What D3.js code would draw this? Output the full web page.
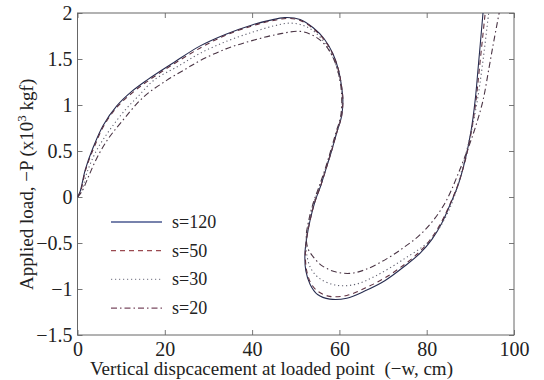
<!DOCTYPE html>
<html>
<head>
<meta charset="utf-8">
<script src="https://cdn.jsdelivr.net/npm/d3@7"></script>
<style>
  body { margin: 0; background: #fff; }
  text { font-family: "Liberation Serif", "DejaVu Serif", serif; fill: #222; }
</style>
</head>
<body>
<svg id="chart" width="544" height="380"></svg>
<script>
// values, [displacement -w (cm), load -P (x10^3 kgf)]
var s120 = [
  [0, 0], [0.6, 0.06], [1.8, 0.3], [3.6, 0.54], [5.9, 0.78], [9, 0.99], [12.5, 1.15],
  [15.9, 1.27], [22, 1.46], [28, 1.64], [34, 1.77], [40, 1.87], [44, 1.92],
  [47.5, 1.95], [51, 1.93], [54, 1.84], [56.5, 1.72], [58.5, 1.56],
  [59.8, 1.38], [60.5, 1.2], [60.8, 1.05], [60.5, 0.88], [59.4, 0.7], [58.2, 0.5],
  [57.1, 0.33], [55.7, 0.12], [54.4, -0.05], [53.3, -0.25], [52.5, -0.45],
  [52.1, -0.62], [52.3, -0.8], [53.3, -0.95], [55, -1.06], [57.8, -1.11],
  [61.7, -1.1], [65.9, -1.02], [70.4, -0.91], [75, -0.75], [78.5, -0.61],
  [81.2, -0.46], [83.5, -0.28], [85.3, -0.09], [87.2, 0.13], [88.8, 0.4],
  [90.2, 0.73], [91.1, 1.05], [91.8, 1.41], [92.9, 2.0]
];
var s50 = [
  [0, 0], [0.7, 0.06], [1.9, 0.3], [3.8, 0.54], [6.1, 0.78], [9.3, 0.99], [13, 1.15],
  [16.4, 1.27], [22.5, 1.46], [28.5, 1.63], [34, 1.76], [40, 1.86], [44, 1.91],
  [48, 1.94], [51, 1.92], [54, 1.83], [56.5, 1.71], [58.5, 1.55],
  [59.8, 1.38], [60.5, 1.2], [60.8, 1.05], [60.5, 0.88], [59.4, 0.7], [58.2, 0.5],
  [57.1, 0.33], [55.7, 0.12], [54.4, -0.05], [53.3, -0.25], [52.5, -0.45],
  [52.2, -0.62], [52.5, -0.8], [53.5, -0.94], [55.2, -1.03], [57.8, -1.08],
  [61.7, -1.07], [65.9, -0.99], [70.4, -0.88], [75, -0.73], [78.5, -0.59],
  [81.2, -0.44], [83.5, -0.26], [85.3, -0.08], [87.2, 0.14], [88.9, 0.41],
  [90.3, 0.73], [91.3, 1.05], [92.1, 1.41], [93.4, 2.0]
];
var s30 = [
  [0, 0], [0.9, 0.06], [2.2, 0.27], [4.3, 0.5], [7.4, 0.73], [11, 0.95], [14, 1.1],
  [17.5, 1.27], [23, 1.42], [28, 1.56], [34, 1.69], [40, 1.79], [45, 1.86],
  [48.7, 1.89], [52, 1.86], [54.7, 1.78], [57, 1.65], [58.7, 1.5], [59.9, 1.32],
  [60.6, 1.12], [60.4, 0.88], [59.3, 0.7], [58.1, 0.5], [57, 0.33], [55.5, 0.12],
  [54.2, -0.05], [53.1, -0.25], [52.4, -0.45], [52.5, -0.62], [53.5, -0.78],
  [55.6, -0.89], [59.4, -0.96], [63.6, -0.95], [68.2, -0.86], [74.6, -0.68],
  [80.8, -0.47], [84.2, -0.23], [86.5, 0.03], [88.6, 0.4], [90.3, 0.73],
  [91.6, 1.05], [92.7, 1.41], [94.2, 2.0]
];
var s20 = [
  [0, 0], [1, 0.06], [2.5, 0.22], [4.5, 0.43], [7, 0.63], [9.8, 0.8], [15.2, 1.09],
  [20.5, 1.27], [25.1, 1.4], [28, 1.48], [34, 1.61], [40, 1.7], [46, 1.77],
  [51, 1.8], [54.2, 1.75], [56.6, 1.66], [58.5, 1.52], [59.8, 1.34], [60.5, 1.12],
  [60.3, 0.88], [59.2, 0.7], [58, 0.5], [56.9, 0.33], [55.4, 0.12], [54.1, -0.05],
  [53, -0.25], [52.4, -0.43], [52.8, -0.56], [54, -0.65], [55.8, -0.74],
  [58.8, -0.81], [62.4, -0.83], [65.9, -0.79], [70.9, -0.67], [75, -0.54],
  [78.5, -0.41], [81.9, -0.23], [84.6, -0.03], [87.1, 0.24], [89.8, 0.57],
  [91.3, 0.78], [92.9, 1.05], [94.3, 1.41], [95.4, 1.7], [96.6, 2.0]
];

var xTicks = [0, 20, 40, 60, 80, 100];
var yTicks = [-1.5, -1, -0.5, 0, 0.5, 1, 1.5, 2];
var legendLabels = ["s=120", "s=50", "s=30", "s=20"];
var seriesData = [s120, s50, s30, s20];
var seriesColors = ["#262c50", "#5e3040", "#606070", "#4a3444"];
var legendColors = ["#4a5890", "#9a4a50", "#8a8a98", "#7a4a60"];
var seriesDash = ["none", "5,4", "1.2,2.8", "6,3,1.5,3"];

var svg = d3.select("#chart");
var pLeft = 77.5, pRight = 514, pTop = 13, pBottom = 335;
var serif = "'Liberation Serif', 'DejaVu Serif', serif";

var x = d3.scaleLinear().domain([0, 100]).range([pLeft, pRight]);
var y = d3.scaleLinear().domain([-1.5, 2]).range([pBottom, pTop]);

var fmt = d3.format("~g");

// axes, ticks pointing inward on all four sides
svg.append("g")
  .attr("transform", "translate(0," + pBottom + ")")
  .call(d3.axisBottom(x).tickValues(xTicks).tickSizeInner(-5).tickSizeOuter(0).tickPadding(7).tickFormat(fmt))
  .call(g => g.select(".domain").remove());
svg.append("g")
  .attr("transform", "translate(0," + pTop + ")")
  .call(d3.axisTop(x).tickValues(xTicks).tickSizeInner(-5).tickSizeOuter(0).tickFormat(""))
  .call(g => g.select(".domain").remove());
svg.append("g")
  .attr("transform", "translate(" + pLeft + ",0)")
  .call(d3.axisLeft(y).tickValues(yTicks).tickSizeInner(-5).tickSizeOuter(0).tickPadding(5).tickFormat(fmt))
  .call(g => g.select(".domain").remove());
svg.append("g")
  .attr("transform", "translate(" + pRight + ",0)")
  .call(d3.axisRight(y).tickValues(yTicks).tickSizeInner(-5).tickSizeOuter(0).tickFormat(""))
  .call(g => g.select(".domain").remove());

svg.selectAll("g").attr("font-family", serif).attr("font-size", 20);
svg.selectAll(".tick line").attr("stroke", "#555").attr("stroke-width", 0.8);
svg.selectAll(".tick text")
  .attr("fill", "#222")
  .attr("font-family", serif)
  .style("font-size", "20px");

svg.append("rect")
  .attr("x", pLeft)
  .attr("y", pTop)
  .attr("width", pRight - pLeft)
  .attr("height", pBottom - pTop)
  .attr("fill", "none")
  .attr("stroke", "#666")
  .attr("stroke-width", 1);

svg.append("defs")
  .append("clipPath")
  .attr("id", "plotclip")
  .append("rect")
  .attr("x", pLeft)
  .attr("y", pTop)
  .attr("width", pRight - pLeft)
  .attr("height", pBottom - pTop);

var line = d3.line()
  .x(function(d) { return x(d[0]); })
  .y(function(d) { return y(d[1]); })
  .curve(d3.curveCatmullRom.alpha(0.5));

svg.append("g")
  .attr("clip-path", "url(#plotclip)")
  .selectAll("path")
  .data(seriesData)
  .join("path")
  .attr("d", line)
  .attr("fill", "none")
  .attr("stroke", (d, i) => seriesColors[i])
  .attr("stroke-width", 1.1)
  .attr("stroke-dasharray", (d, i) => seriesDash[i]);

// legend
var leg = svg.append("g")
  .selectAll("g")
  .data(legendLabels)
  .join("g")
  .attr("transform", (d, i) => "translate(111," + (222 + i * 28.7) + ")");
leg.append("line")
  .attr("x1", 0)
  .attr("x2", 51)
  .attr("stroke", (d, i) => legendColors[i])
  .attr("stroke-width", 1.3)
  .attr("stroke-dasharray", (d, i) => seriesDash[i]);
leg.append("text")
  .attr("x", 61)
  .attr("y", 6)
  .attr("font-family", serif)
  .style("font-size", "18px")
  .text(d => d);

// axis titles
svg.append("text")
  .attr("x", 90)
  .attr("y", 375)
  .attr("font-family", serif)
  .style("font-size", "19px")
  .style("white-space", "pre")
  .attr("xml:space", "preserve")
  .text("Vertical dispcacement at loaded point  (\u2212w, cm)");

var yl = svg.append("text")
  .attr("transform", "translate(33,290) rotate(-90)")
  .attr("font-family", serif)
  .style("font-size", "19px");
yl.append("tspan").text("Applied load, \u2212P (x10");
yl.append("tspan").attr("dy", -7).style("font-size", "13px").text("3");
yl.append("tspan").attr("dy", 7).text(" kgf)");
</script>
</body>
</html>
